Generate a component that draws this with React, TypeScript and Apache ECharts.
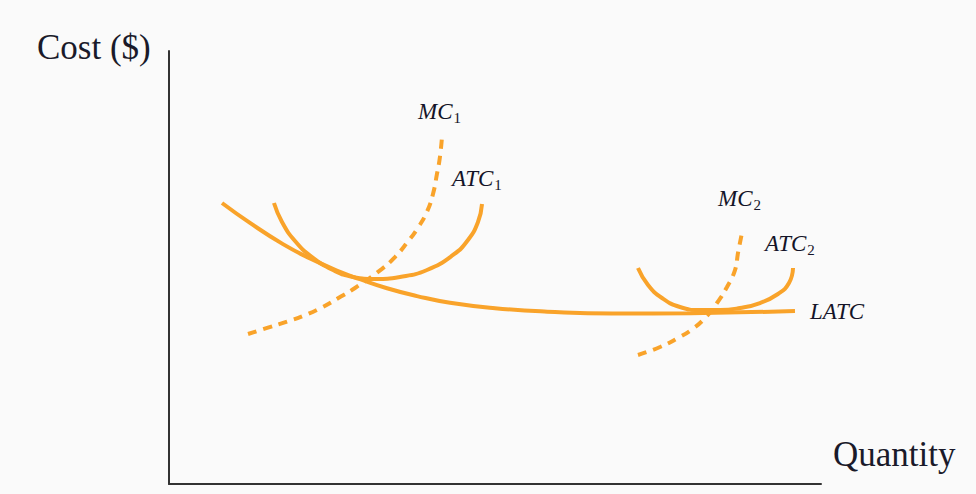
import React, { useEffect, useRef } from "react";
import * as echarts from "echarts";

// Data in chart units: quantity 0..100 (x), cost 0..100 (y)
const latcX = [8.13, 12.42, 17.48, 21.63, 26.23, 29.29, 33.44, 38.04, 43.1, 50, 58, 68, 80, 96.01];
const latcY = [64.9, 60.3, 55.4, 52.1, 49.0, 47.3, 45.2, 43.4, 41.85, 40.6, 39.8, 39.35, 39.45, 39.95];

const atc1X = [16.1, 17.33, 19.33, 21.93, 25.15, 28.22, 31.6, 35.43, 39.57, 43.56, 45.86, 47.39, 48.01];
const atc1Y = [64.9, 60.51, 56.12, 52.42, 49.42, 47.81, 47.34, 47.81, 49.42, 52.89, 56.35, 60.51, 64.67];

const mc1X = [12.12, 15.18, 18.1, 20.55, 23.47, 25.92, 28.53, 32.67, 34.66, 36.5, 38.19, 39.57, 40.49, 41.1, 41.56, 41.87];
const mc1Y = [34.64, 36.1, 37.5, 38.8, 40.8, 42.9, 45.27, 49.7, 52.42, 55.7, 59.2, 62.9, 67.0, 71.6, 75.6, 80.14];

const atc2X = [71.93, 73.47, 75.61, 78.37, 81.44, 84.51, 87.58, 90.64, 93.4, 95.09, 95.71];
const atc2Y = [49.88, 45.96, 42.96, 40.88, 40.18, 40.18, 40.65, 41.8, 43.88, 46.42, 49.88];

const mc2X = [71.93, 75.31, 78.07, 80.21, 82.21, 84.05, 85.58, 86.81, 87.27, 87.88];
const mc2Y = [29.79, 31.64, 33.72, 35.7, 38.34, 41.8, 45.5, 49.42, 53.35, 57.97];

const axisTitles = { y: "Cost ($)", x: "Quantity" };
const curveLabels = [
  { main: "MC", sub: "1" },
  { main: "ATC", sub: "1" },
  { main: "MC", sub: "2" },
  { main: "ATC", sub: "2" },
  { main: "LATC", sub: "" },
];

const zip = (xs: number[], ys: number[]) => xs.map((x, i) => [x, ys[i]]);

const ORANGE = "#F9A32A";
const SERIF = "'Liberation Serif', 'Times New Roman', serif";

export default function App() {
  const ref = useRef<HTMLDivElement>(null);
  useEffect(() => {
    if (!ref.current) return;
    const chart = echarts.init(ref.current, undefined, { renderer: "svg" });

    const solid = { color: ORANGE, width: 4 };
    const dashed = { color: ORANGE, width: 4, type: [9, 7] as number[], cap: "butt" as const };

    const mkLabel = (idx: number, x: number, y: number) => {
      const l = curveLabels[idx];
      return {
        type: "text",
        x,
        y,
        style: {
          text: l.sub ? `{a|${l.main}}{b|${l.sub}}` : `{a|${l.main}}`,
          verticalAlign: "middle",
          align: "left",
          rich: {
            a: { fontSize: 23, fontStyle: "italic", fontFamily: SERIF, fill: "#141428" },
            b: { fontSize: 15, fontFamily: SERIF, fill: "#141428", padding: [14, 0, 0, 1] },
          },
        },
      };
    };

    const line = (name: string, xs: number[], ys: number[], style: object) => ({
      name,
      type: "line",
      data: zip(xs, ys),
      smooth: 0.5,
      showSymbol: false,
      lineStyle: style,
    });

    chart.setOption({
      animation: false,
      backgroundColor: "#fafafa",
      grid: { left: 169, top: 51, width: 652, height: 433 },
      xAxis: {
        type: "value",
        min: 0,
        max: 100,
        axisLine: { show: true, lineStyle: { color: "#333", width: 2 } },
        axisTick: { show: false },
        axisLabel: { show: false },
        splitLine: { show: false },
      },
      yAxis: {
        type: "value",
        min: 0,
        max: 100,
        axisLine: { show: true, lineStyle: { color: "#333", width: 2 } },
        axisTick: { show: false },
        axisLabel: { show: false },
        splitLine: { show: false },
      },
      series: [
        line("LATC", latcX, latcY, solid),
        line("ATC1", atc1X, atc1Y, solid),
        line("MC1", mc1X, mc1Y, dashed),
        line("ATC2", atc2X, atc2Y, solid),
        line("MC2", mc2X, mc2Y, dashed),
      ],
      graphic: [
        {
          type: "text",
          x: 37,
          y: 47,
          style: { text: axisTitles.y, fontSize: 35, fontFamily: SERIF, fill: "#1a1a2a", verticalAlign: "middle" },
        },
        {
          type: "text",
          x: 833,
          y: 454,
          style: { text: axisTitles.x, fontSize: 35, fontFamily: SERIF, fill: "#1a1a2a", verticalAlign: "middle" },
        },
        mkLabel(0, 418, 111),
        mkLabel(1, 452, 178),
        mkLabel(2, 718, 198),
        mkLabel(3, 765, 243),
        mkLabel(4, 810, 311),
      ],
    });
    return () => chart.dispose();
  }, []);
  return <div ref={ref} style={{ position: "fixed", left: 0, top: 0, width: 976, height: 494 }} />;
}
